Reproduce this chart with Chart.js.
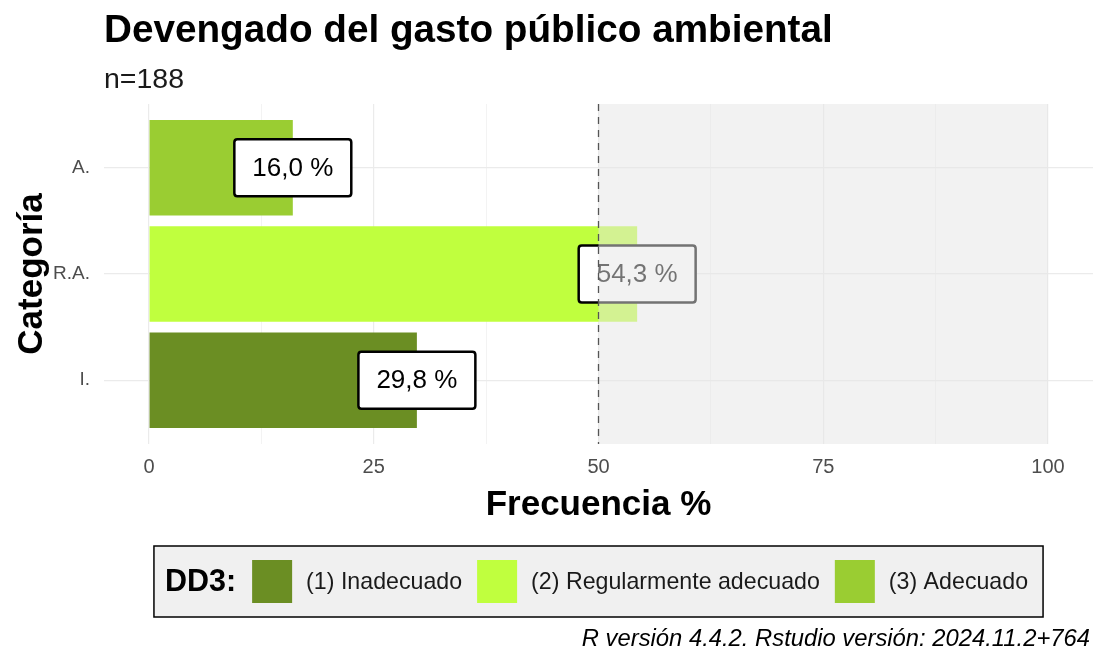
<!DOCTYPE html>
<html><head><meta charset="utf-8">
<script src="https://cdn.jsdelivr.net/npm/chart.js@4.4.1/dist/chart.umd.min.js"></script>
<style>html,body{margin:0;padding:0;background:#fff}#wrap{width:1093px;height:651px;position:relative}</style>
</head><body><div id="wrap"><canvas id="c" width="1093" height="651"></canvas></div>
<script>
const categories = ['A.', 'R.A.', 'I.'];
const values = [16.0, 54.3, 29.8];
const valueLabels = ['16,0 %', '54,3 %', '29,8 %'];
const barColors = ['#9ACD32', '#C0FF3E', '#6B8E23'];
const xTicks = [0, 12.5, 25, 37.5, 50, 62.5, 75, 87.5, 100];
const xTickLabels = {0: '0', 25: '25', 50: '50', 75: '75', 100: '100'};
const legendTitle = 'DD3:';
const legendLabels = ['(1) Inadecuado', '(2) Regularmente adecuado', '(3) Adecuado'];
const legendColors = ['#6B8E23', '#C0FF3E', '#9ACD32'];
const threshold = 50;
const shadeEnd = 100;
const titleText = 'Devengado del gasto público ambiental';
const subtitleText = 'n=188';
const xTitle = 'Frecuencia %';
const yTitle = 'Categoría';
const captionText = 'R versión 4.4.2. Rstudio versión: 2024.11.2+764';

const FONT = '"Liberation Sans", Arial, sans-serif';

function roundRect(ctx, x, y, w, h, r) {
  ctx.beginPath();
  ctx.moveTo(x + r, y);
  ctx.lineTo(x + w - r, y);
  ctx.quadraticCurveTo(x + w, y, x + w, y + r);
  ctx.lineTo(x + w, y + h - r);
  ctx.quadraticCurveTo(x + w, y + h, x + w - r, y + h);
  ctx.lineTo(x + r, y + h);
  ctx.quadraticCurveTo(x, y + h, x, y + h - r);
  ctx.lineTo(x, y + r);
  ctx.quadraticCurveTo(x, y, x + r, y);
  ctx.closePath();
}

const decor = {
  id: 'decor',
  afterDatasetsDraw(chart) {
    const ctx = chart.ctx, xs = chart.scales.x, ys = chart.scales.y, ca = chart.chartArea;
    ctx.save();
    ctx.font = '26px ' + FONT;
    ctx.textAlign = 'center';
    ctx.textBaseline = 'middle';
    values.forEach((v, i) => {
      const cx = xs.getPixelForValue(v), cy = ys.getPixelForValue(i + 1);
      const tw = ctx.measureText(valueLabels[i]).width;
      const w = tw + 36, h = 57;
      roundRect(ctx, cx - w / 2, cy - h / 2, w, h, 3);
      ctx.fillStyle = '#ffffff';
      ctx.fill();
      ctx.lineWidth = 2.5;
      ctx.strokeStyle = '#000000';
      ctx.stroke();
      ctx.fillStyle = '#000000';
      ctx.fillText(valueLabels[i], cx, cy + 1);
    });
    const x0 = xs.getPixelForValue(threshold), x1 = xs.getPixelForValue(shadeEnd);
    ctx.fillStyle = 'rgba(229,229,229,0.5)';
    ctx.fillRect(x0, ca.top, x1 - x0, ca.bottom - ca.top);
    ctx.beginPath();
    ctx.setLineDash([7, 6]);
    ctx.lineWidth = 1.3;
    ctx.strokeStyle = '#555555';
    ctx.moveTo(x0, ca.top);
    ctx.lineTo(x0, ca.bottom);
    ctx.stroke();
    ctx.restore();
  },
  afterDraw(chart) {
    const ctx = chart.ctx, xs = chart.scales.x, ca = chart.chartArea;
    ctx.save();
    ctx.fillStyle = '#000';
    ctx.textBaseline = 'alphabetic';
    ctx.textAlign = 'left';
    ctx.font = 'bold 38.7px ' + FONT;
    ctx.fillText(titleText, 104, 42);
    ctx.font = '28.5px ' + FONT;
    ctx.fillStyle = '#1a1a1a';
    ctx.fillText(subtitleText, 104, 88);
    ctx.fillStyle = '#000';
    ctx.font = 'bold 35px ' + FONT;
    ctx.textAlign = 'center';
    const midX = (xs.getPixelForValue(0) + xs.getPixelForValue(100)) / 2;
    ctx.fillText(xTitle, midX, 515);
    ctx.save();
    ctx.translate(42, (ca.top + ca.bottom) / 2);
    ctx.rotate(-Math.PI / 2);
    ctx.fillText(yTitle, 0, 0);
    ctx.restore();
    // legend
    const titleFont = 'bold 30.5px ' + FONT, labFont = '23.2px ' + FONT;
    ctx.font = titleFont;
    const tW = ctx.measureText(legendTitle).width;
    ctx.font = labFont;
    const lW = legendLabels.map(l => ctx.measureText(l).width);
    const padL = 11, padR = 15, gapTS = 16, swW = 40, gapSL = 14, gapLS = 15;
    let total = padL + tW + padR + gapTS;
    lW.forEach((w, i) => { total += (i > 0 ? gapLS : 0) + swW + gapSL + w; });
    const bx = midX - total / 2, by = 546, bh = 71;
    ctx.fillStyle = '#F0F0F0';
    ctx.fillRect(bx, by, total, bh);
    ctx.lineWidth = 1.5;
    ctx.strokeStyle = '#000';
    ctx.strokeRect(bx, by, total, bh);
    const cy = by + bh / 2;
    ctx.textAlign = 'left';
    ctx.textBaseline = 'middle';
    ctx.fillStyle = '#000';
    ctx.font = titleFont;
    let x = bx + padL;
    ctx.fillText(legendTitle, x, cy + 1);
    x += tW + gapTS;
    ctx.font = labFont;
    legendLabels.forEach((l, i) => {
      if (i > 0) x += gapLS;
      ctx.fillStyle = legendColors[i];
      ctx.fillRect(x, cy - 21.5, swW, 43);
      x += swW + gapSL;
      ctx.fillStyle = '#1a1a1a';
      ctx.fillText(l, x, cy + 1);
      x += lW[i];
    });
    ctx.font = 'italic 23.8px ' + FONT;
    ctx.textAlign = 'right';
    ctx.textBaseline = 'alphabetic';
    ctx.fillStyle = '#000';
    ctx.fillText(captionText, 1090, 646);
    ctx.restore();
  }
};

new Chart(document.getElementById('c').getContext('2d'), {
  type: 'bar',
  data: {
    datasets: [{
      data: values.map((v, i) => ({ x: v, y: i + 1 })),
      backgroundColor: barColors,
      borderWidth: 0,
      barPercentage: 0.9,
      categoryPercentage: 1
    }]
  },
  options: {
    indexAxis: 'y',
    responsive: false,
    animation: false,
    layout: { padding: { top: 104, right: 0, left: 0, bottom: 0 } },
    plugins: { legend: { display: false }, tooltip: { enabled: false } },
    scales: {
      x: {
        type: 'linear', min: -5, max: 105, offset: false,
        afterBuildTicks: s => { s.ticks = xTicks.map(v => ({ value: v })); },
        afterFit: s => { s.height = 207; s.paddingLeft = 0; s.paddingRight = 0; },
        grid: { offset: false, color: '#EBEBEB', lineWidth: c => (c.tick && c.tick.value % 25 === 0) ? 1.2 : 0.6, drawTicks: false },
        border: { display: false },
        ticks: {
          padding: 11, autoSkip: false, maxRotation: 0,
          font: { family: FONT, size: 20 }, color: '#4D4D4D',
          callback: v => (xTickLabels[v] !== undefined ? xTickLabels[v] : '')
        }
      },
      y: {
        type: 'linear', reverse: true, min: 0.4, max: 3.6, offset: false,
        afterBuildTicks: s => { s.ticks = categories.map((c, i) => ({ value: i + 1 })); },
        afterFit: s => { s.width = 104; s.paddingTop = 0; s.paddingBottom = 0; },
        grid: { offset: false, color: '#EBEBEB', lineWidth: 1.2, drawTicks: false },
        border: { display: false },
        ticks: {
          padding: 14, autoSkip: false,
          font: { family: FONT, size: 19 }, color: '#4D4D4D',
          callback: v => categories[v - 1]
        }
      }
    }
  },
  plugins: [decor]
});
</script></body></html>
